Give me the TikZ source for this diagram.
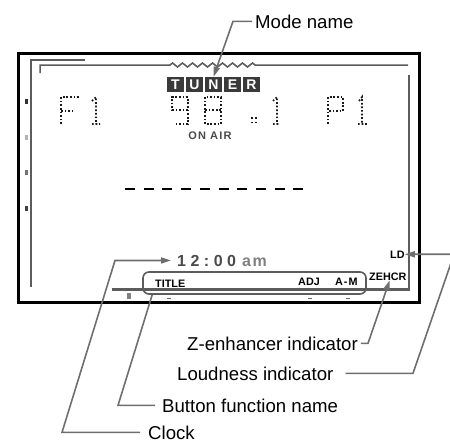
\documentclass[tikz,border=0pt]{standalone}
\usepackage{fontspec}
\setmainfont{Liberation Sans}
\usetikzlibrary{arrows.meta,decorations.pathmorphing,calc}
\definecolor{Lead}{HTML}{6E6E6E}
\definecolor{Frame}{HTML}{5C5C5C}
\definecolor{Seg}{HTML}{3A3A3A}
\definecolor{DimText}{HTML}{4A4A4A}

\begin{document}
\begin{tikzpicture}[x=1pt, y=-1pt, >={Triangle[length=10pt,width=6pt]}]
\tikzset{lbl/.style={inner sep=0pt, anchor=base west, font=\fontsize{18.6}{22}\selectfont}, lcd/.style={inner sep=0pt, anchor=base west, font=\bfseries\fontsize{10.8}{12}\selectfont}, lead/.style={draw=Lead, line width=1.6pt}, glyph/.style={draw=black!90, line width=1.7pt, dash pattern=on 1.7pt off 1.9pt}, tunbox/.style={fill=Seg, text=white, minimum width=17pt, minimum height=15pt, inner sep=0pt, font=\bfseries\fontsize{14}{14}\selectfont}, pill/.style={draw=Frame, line width=1.6pt, rounded corners=6pt, minimum width=223pt, minimum height=22pt, inner sep=0pt}}
\useasboundingbox (0,0) rectangle (450,442);
\clip (0,0) rectangle (450,442);
% display frame
\draw[line width=3pt] (18,53) rectangle (419,302);
\draw[Frame, line width=2.2pt] (85,60) -- (31,60) -- (31,287);
\draw[Frame, line width=1.5pt] (40,73) -- (40,65) -- (170,65) decorate[decoration={zigzag, segment length=10pt, amplitude=2pt}] {-- (258,65)} -- (408,65);
\draw[Frame, line width=2.6pt] (409,75) -- (409,289.5) -- (112,289.5);
\foreach \y/\c in {101/black!80, 137/black!30, 172/black!55, 208/black!75} \fill[\c] (24.5,\y-2.5) rectangle (27.5,\y+2.5);
\fill[black!50] (127,293) rectangle (131,299);
\foreach \x in {169,310,348} \fill[black!60] (\x-2,297.5) rectangle (\x+2,299);
% mode name
\foreach \l [count=\i] in {T,U,N,E,R} \node[tunbox] (tun\i) at ({175.5+(\i-1)*19},84.5) {\l};
% dot matrix
\draw[glyph] (61,124) -- (61,97) -- (79,97) (61,111) -- (73,111);
\draw[glyph] (92,101) -- (96,97) -- (96,124) (92,124) -- (100,124);
\draw[glyph] (188,110) -- (172,110) -- (172,97) -- (188,97) -- (188,124) -- (174,124);
\draw[glyph] (205,97) rectangle (221,124) (205,110) -- (221,110);
\foreach \x/\y in {252/118,256/118,252/122.5,256/122.5} \fill[black!90] (\x-0.85,\y-0.85) rectangle (\x+0.85,\y+0.85);
\draw[glyph] (273,101) -- (277,97) -- (277,124) (273,124) -- (280,124);
\draw[glyph] (328,124) -- (328,97) -- (343,97) -- (343,111) -- (328,111);
\draw[glyph] (359,101) -- (362,97) -- (362,124) (358,124) -- (367,124);
\node[inner sep=0pt, text=DimText, font=\bfseries\fontsize{11}{12}\selectfont] (onair) at (210,136) {O\kern1.3pt N\kern4pt A\kern1.3pt I\kern1.3pt R};
\draw[line width=2.5pt, dash pattern=on 10pt off 8.7pt] (125,189) -- (303,189);
% clock and buttons
\node[inner sep=0pt, anchor=base west, text=DimText, font=\bfseries\fontsize{16}{16}\selectfont] (clocktxt) at (177,266) {1\kern4.5pt 2\kern4.5pt :\kern4.5pt 0\kern4.5pt 0\kern6pt\textcolor{black!50}{a\kern1.5pt m}};
\node[pill] (pill) at (254.5,283) {};
\node[lcd] (title) at (155,287) {TITLE};
\node[lcd] (adj) at (298,285) {ADJ};
\node[lcd] (amode) at (335,285) {A\kern1pt-\kern1pt M};
\node[lcd] (zehcr) at (369,280) {ZEHCR};
\node[lcd] (ld) at (390,258) {LD};
% labels
\node[lbl] (modelbl) at (255,28) {Mode name};
\node[lbl] (zenhlbl) at (187,350) {Z-enhancer indicator};
\node[lbl] (loudlbl) at (177,380) {Loudness indicator};
\node[lbl] (btnlbl) at (162,412) {Button function name};
\node[lbl] (clocklbl) at (148,439) {Clock};
\coordinate (modebend) at (233,22);
\coordinate (zfoot) at (368,343);
\coordinate (loudfoot) at (413,373);
\coordinate (loudtop) at (454,255);
\coordinate (btnfoot) at (118,405);
\coordinate (clkfoot) at (62,433);
\coordinate (clkbend) at (115,262);
\draw[lead,->,shorten <=3pt] (modelbl.west) -- (modebend |- modelbl.west) -- (tun3.north);
\draw[lead,->,shorten <=3pt] (zenhlbl.east) -- (zfoot |- zenhlbl.east) -- (zehcr.-65);
\draw[lead,->,shorten <=12pt] (loudlbl.east) -- (loudfoot |- loudlbl.east) -- (loudtop |- ld.east) -- (ld.east);
\draw[lead,shorten <=7pt] (btnlbl.west) -- (btnfoot |- btnlbl.west) -- ([xshift=10pt]pill.south west);
\draw[lead,->,shorten <=8pt,shorten >=6pt] (clocklbl.west) -- (clkfoot |- clocklbl.west) -- (clkbend |- clocktxt.west) -- (clocktxt.west);
\end{tikzpicture}
\end{document}
